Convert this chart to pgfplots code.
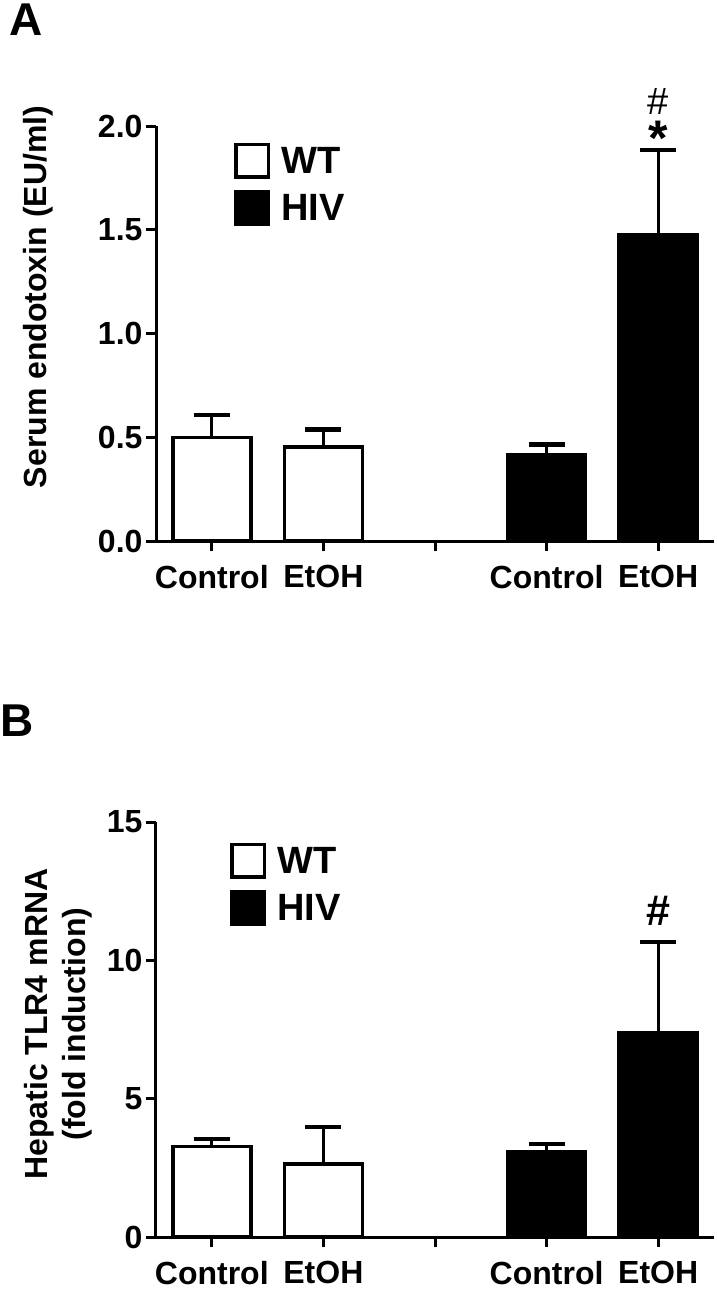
\documentclass[border=0pt]{standalone}
\usepackage{fontspec}
\setmainfont{Liberation Sans}
\usepackage{pgfplots}
\pgfplotsset{compat=1.18}
\pgfplotsset{
  mybars/.style={
    scale only axis, width=558pt, height=415pt,
    xmin=0.5, xmax=5.5,
    axis x line*=bottom, axis y line*=left,
    x axis line style={shorten <=-8pt},
    ybar, bar width=78pt, bar shift=0pt,
    xtick={1,2,3,4,5}, xticklabels={Control,EtOH,,Control,EtOH},
    tick align=outside, major tick length=10pt,
    every tick/.style={black, line width=3pt},
    axis line style={line width=3pt},
    tick label style={font=\fontsize{32}{36}\selectfont\bfseries},
    xticklabel style={yshift=-11pt},
    clip=false,
    legend style={draw=none, fill=none, anchor=north west,
      font=\fontsize{38}{40}\selectfont\bfseries, row sep=11pt,
      inner sep=0pt, nodes={inner sep=0pt},
      /tikz/every odd column/.append style={column sep=11pt}},
    legend cell align=left,
    legend image code/.code={\draw[##1, line width=3.5pt] (1.75pt,-16.25pt) rectangle (34.25pt,16.25pt);},
  },
  wtbar/.style={ybar, fill=white, draw=black, line width=3.5pt,
    error bars/.cd, y dir=plus, y explicit,
    error bar style={line width=3pt, solid},
    error mark options={line width=4.5pt, mark size=18pt, rotate=90}},
  hivbar/.style={ybar, fill=black, draw=black, line width=3.5pt,
    error bars/.cd, y dir=plus, y explicit,
    error bar style={line width=3pt, solid},
    error mark options={line width=4.5pt, mark size=18pt, rotate=90}},
}
\begin{document}
\begin{tikzpicture}
\useasboundingbox (0,0) rectangle (717pt,-1290pt);
\node[anchor=north west, inner sep=0pt, font=\fontsize{46}{46}\selectfont\bfseries] at (9pt,-4pt) {A};
\node[anchor=north west, inner sep=0pt, font=\fontsize{46}{46}\selectfont\bfseries] at (0pt,-705pt) {B};

\begin{axis}[mybars, at={(156pt,-541pt)}, anchor=south west,
  ymin=0, ymax=2, ytick={0,0.5,1,1.5,2}, yticklabels={0.0,0.5,1.0,1.5,2.0},
  ylabel={Serum endotoxin (EU/ml)},
  ylabel style={font=\fontsize{32}{36}\selectfont\bfseries, at={(axis description cs:-0.2115,0.588)}, anchor=center},
  legend style={at={(axis description cs:0.14,0.96)}},
]
\addplot[wtbar] coordinates {(1,0.500) +- (0,0.108) (2,0.452) +- (0,0.085)};
\addlegendentry{WT}
\addplot[hivbar] coordinates {(4,0.414) +- (0,0.051) (5,1.475) +- (0,0.409)};
\addlegendentry{HIV}
\node[inner sep=0pt, anchor=south] at (axis cs:5,1.8386) {\begin{tabular}{@{}c@{}}{\fontsize{38}{40}\selectfont\#}\\[3pt]{\fontsize{50}{50}\selectfont\bfseries *}\end{tabular}};
\end{axis}

\begin{axis}[mybars, at={(156pt,-1237pt)}, anchor=south west,
  ymin=0, ymax=15, ytick={0,5,10,15},
  /pgf/number format/assume math mode=true,
  ylabel={Hepatic TLR4 mRNA\\(fold induction)},
  ylabel style={font=\fontsize{32}{38}\selectfont\bfseries, align=center, at={(axis description cs:-0.175,0.513)}, anchor=center},
  legend style={at={(axis description cs:0.133,0.95)}},
]
\addplot[wtbar] coordinates {(1,3.27) +- (0,0.28) (2,2.64) +- (0,1.33)};
\addlegendentry{WT}
\addplot[hivbar] coordinates {(4,3.09) +- (0,0.28) (5,7.37) +- (0,3.29)};
\addlegendentry{HIV}
\node[font=\fontsize{43}{44}\selectfont\bfseries] at (axis cs:5,11.78) {\#};
\end{axis}
\end{tikzpicture}
\end{document}
